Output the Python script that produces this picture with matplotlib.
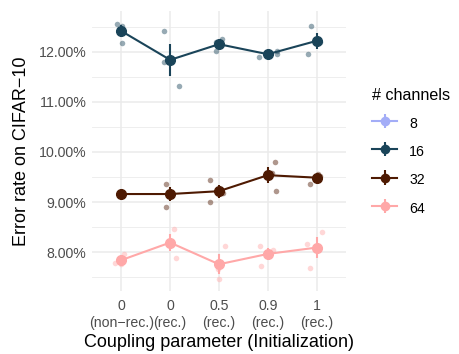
import numpy as np
import matplotlib
matplotlib.use("Agg")
import matplotlib.pyplot as plt
from matplotlib.ticker import FuncFormatter, MultipleLocator

plt.rcParams['font.family'] = ['Liberation Sans', 'DejaVu Sans']

categories = ["0\n(non\u2212rec.)", "0\n(rec.)", "0.5\n(rec.)", "0.9\n(rec.)", "1\n(rec.)"]
series_names = ["8", "16", "32", "64"]
colors = {"8": "#a3adf7", "16": "#1a4459", "32": "#4e1a02", "64": "#ffa8a8"}

# individual runs (error rate in %), three per coupling setting
runs_16 = [[12.56, 12.52, 12.17], [12.42, 11.79, 11.31], [12.19, 12.26, 12.01],
           [11.90, 12.01, 11.95], [12.51, 11.96, 12.19]]
runs_32 = [[9.15, 9.17, 9.16], [9.36, 8.91, 9.21], [9.45, 9.01, 9.19],
           [9.79, 9.23, 9.59], [9.37, 9.57, 9.52]]
runs_64 = [[7.79, 7.96, 7.77], [8.47, 7.89, 8.21], [8.13, 7.47, 7.67],
           [8.13, 8.04, 7.72], [8.17, 8.41, 7.69]]
# horizontal jitter of each run (category units)
jitter_16 = [[-0.09, 0.01, 0.01], [-0.12, -0.12, 0.18], [-0.07, 0.06, -0.07],
             [-0.18, 0.18, 0.18], [-0.12, -0.18, 0.06]]
jitter_32 = [[0.0, 0.02, -0.02], [-0.08, -0.08, -0.04], [-0.18, -0.18, 0.08],
             [0.14, 0.16, 0.08], [-0.13, 0.02, 0.06]]
jitter_64 = [[-0.12, 0.05, 0.0], [0.07, 0.12, 0.0], [0.12, 0.0, -0.01],
             [-0.15, 0.11, -0.13], [-0.19, 0.10, -0.14]]

data = {"16": (runs_16, jitter_16), "32": (runs_32, jitter_32), "64": (runs_64, jitter_64)}

fig = plt.figure(figsize=(4.6, 3.54), dpi=100)
ax = fig.add_axes([0.2, 0.179, 0.552, 0.789])

xs = np.arange(len(categories))
handles = {}
# empty series for 8 channels (no values within the visible range)
handles["8"] = ax.errorbar([np.nan], [np.nan], yerr=[np.nan], color=colors["8"],
                           marker='o', ms=7, lw=1.5, elinewidth=1.5)
for name, (runs, jit) in data.items():
    c = colors[name]
    arr = np.array(runs)
    jarr = np.array(jit)
    for i in range(arr.shape[0]):
        ax.scatter(xs[i] + jarr[i], arr[i], s=16, color=c, alpha=0.45, lw=0, zorder=2)
    means = arr.mean(axis=1)
    se = arr.std(axis=1, ddof=1) / np.sqrt(arr.shape[1])
    handles[name] = ax.errorbar(xs, means, yerr=se, color=c, marker='o', ms=7,
                                lw=1.5, elinewidth=1.5, zorder=3)

ax.set_xlim(-0.6, 4.6)
ax.set_ylim(7.23, 12.81)
ax.set_xticks(xs)
ax.set_xticklabels(categories, fontsize=10.2, color="#4d4d4d", linespacing=1.25)
ax.yaxis.set_major_locator(MultipleLocator(1.0))
ax.yaxis.set_minor_locator(MultipleLocator(0.5))
ax.yaxis.set_major_formatter(FuncFormatter(lambda v, p: f"{v:.2f}%"))
ax.tick_params(axis='y', labelsize=10.2, labelcolor="#4d4d4d", length=0, which='both', pad=4)
ax.tick_params(axis='x', length=0, pad=6)
for s in ax.spines.values():
    s.set_visible(False)
ax.grid(which='major', color="#ebebeb", lw=1.1)
ax.grid(which='minor', axis='y', color="#ebebeb", lw=0.6)
ax.set_axisbelow(True)
ax.set_xlabel("Coupling parameter (Initialization)", fontsize=13, labelpad=3)
ax.set_ylabel("Error rate on CIFAR\u221210", fontsize=13, labelpad=6)

fig.legend([handles[n] for n in series_names], series_names, title="# channels",
           loc='upper left', bbox_to_anchor=(0.782, 0.787), frameon=False,
           fontsize=10.2, title_fontsize=11.6, handlelength=1.7, handleheight=1.5,
           labelspacing=0.78, alignment='left', handletextpad=0.9, markerscale=0.85)

fig.savefig("out.png", dpi=100)
